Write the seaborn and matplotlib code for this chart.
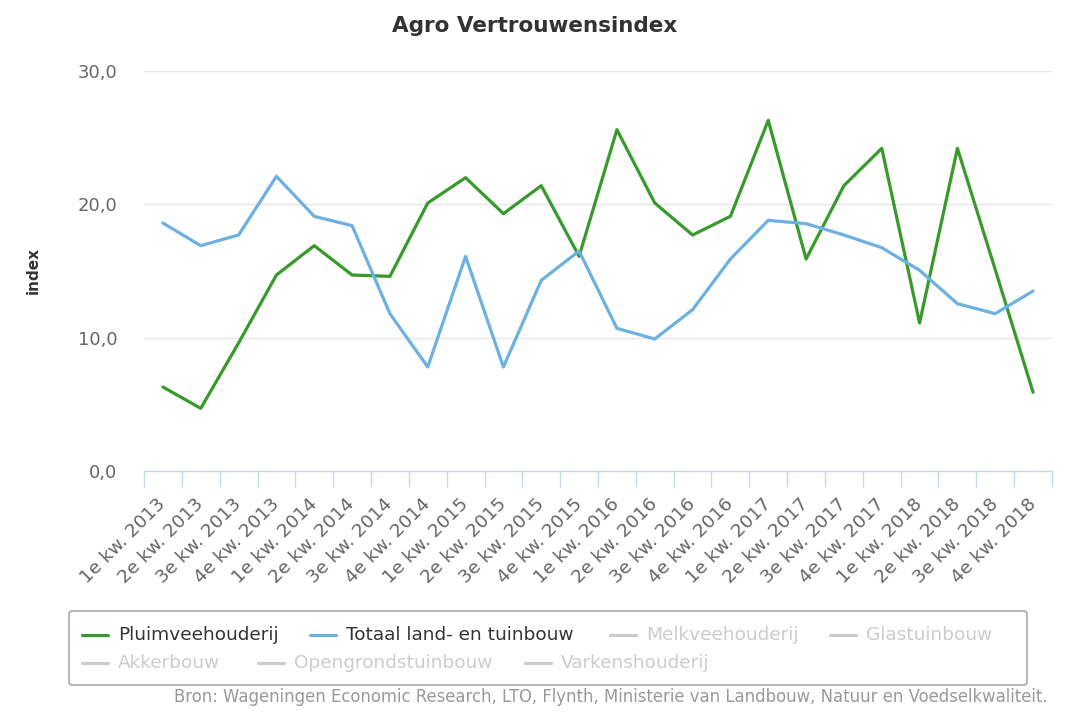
import matplotlib
matplotlib.use("Agg")
import matplotlib.pyplot as plt
import seaborn as sns
import pandas as pd
import numpy as np
from matplotlib.lines import Line2D
from matplotlib.patches import FancyBboxPatch
from matplotlib.ticker import FuncFormatter

# ================================
# DATA
# ================================
QUARTERS = [
    "1e kw. 2013", "2e kw. 2013", "3e kw. 2013", "4e kw. 2013",
    "1e kw. 2014", "2e kw. 2014", "3e kw. 2014", "4e kw. 2014",
    "1e kw. 2015", "2e kw. 2015", "3e kw. 2015", "4e kw. 2015",
    "1e kw. 2016", "2e kw. 2016", "3e kw. 2016", "4e kw. 2016",
    "1e kw. 2017", "2e kw. 2017", "3e kw. 2017", "4e kw. 2017",
    "1e kw. 2018", "2e kw. 2018", "3e kw. 2018", "4e kw. 2018",
]
PLUIMVEE = [6.3, 4.7, 9.6, 14.7, 16.9, 14.7, 14.6, 20.1, 22.0, 19.3, 21.4, 16.1,
            25.6, 20.1, 17.7, 19.1, 26.3, 15.9, 21.4, 24.2, 11.1, 24.2, 15.1, 5.9]
TOTAAL = [18.6, 16.9, 17.7, 22.1, 19.1, 18.4, 11.8, 7.8, 16.1, 7.8, 14.3, 16.5,
          10.7, 9.9, 12.1, 15.9, 18.8, 18.55, 17.7, 16.75, 15.05, 12.55, 11.8, 13.5]
VISIBLE = ["Pluimveehouderij", "Totaal land- en tuinbouw"]
HIDDEN = ["Melkveehouderij", "Glastuinbouw", "Akkerbouw", "Opengrondstuinbouw", "Varkenshouderij"]
Y_TICKS = [0, 10, 20, 30]

GREEN = "#379a2b"
BLUE = "#6cb1e1"
HIDDEN_GREY = "#cccccc"

W, H = 1070, 713

df = pd.DataFrame({
    "kwartaal": QUARTERS * 2,
    "pos": list(range(len(QUARTERS))) * 2,
    "index": PLUIMVEE + TOTAAL,
    "sector": [VISIBLE[0]] * len(QUARTERS) + [VISIBLE[1]] * len(QUARTERS),
})

sns.set_style("white")
plt.rcParams["font.family"] = ["DejaVu Sans"]

fig = plt.figure(figsize=(W / 100, H / 100), dpi=100)
ax = fig.add_axes([144 / W, 1 - 471 / H, (1052 - 144) / W, (471 - 71) / H])

sns.lineplot(data=df, x="pos", y="index", hue="sector",
             palette={VISIBLE[0]: GREEN, VISIBLE[1]: BLUE},
             linewidth=2.3, ax=ax, legend=False, sort=False)

# axes styling
n = len(QUARTERS)
ax.set_xlim(-0.5, n - 0.5)
ax.set_ylim(0, 30)
ax.set_yticks(Y_TICKS)
ax.yaxis.set_major_formatter(FuncFormatter(lambda v, p: f"{v:.1f}".replace(".", ",")))
ax.grid(axis="y", color="#e6e6e6", linewidth=1)
ax.set_axisbelow(True)
for s in ["top", "right", "left"]:
    ax.spines[s].set_visible(False)
ax.spines["bottom"].set_color("#ccd6eb")
ax.spines["bottom"].set_linewidth(1)
ax.tick_params(axis="y", length=0, pad=19, labelsize=13, labelcolor="#666666")

ax.set_xticks(range(n))
ax.set_xticks(np.arange(n + 1) - 0.5, minor=True)
ax.set_xticklabels(QUARTERS, rotation=45, ha="right", va="center",
                   rotation_mode="anchor", fontsize=13.3, color="#666666")
ax.tick_params(axis="x", which="major", bottom=True, length=0, pad=22)
ax.tick_params(axis="x", which="minor", bottom=True, length=11.5, width=1, color="#ccd6eb")

ax.set_xlabel("")
ax.set_ylabel("index", fontsize=11, fontweight="bold", color="#333333", labelpad=27)

fig.text(535 / W, 1 - 26 / H, "Agro Vertrouwensindex", ha="center", va="center",
         fontsize=15.5, fontweight="bold", color="#333333")

# legend box (Highcharts-style flow layout)
box = FancyBboxPatch((69 / W, 1 - 685 / H), (1027 - 69) / W, (685 - 611) / H,
                     boxstyle="round,pad=0,rounding_size=0.004",
                     transform=fig.transFigure, facecolor="white",
                     edgecolor="#999999", linewidth=1)
fig.add_artist(box)

labels = VISIBLE + HIDDEN
colors = [GREEN, BLUE] + [HIDDEN_GREY] * len(HIDDEN)
text_colors = ["#333333", "#333333"] + [HIDDEN_GREY] * len(HIDDEN)
item_x = [82, 310, 610, 830, 82, 258, 525]
item_y = [635, 635, 635, 635, 663, 663, 663]
for lab, c, tc, x0, y0 in zip(labels, colors, text_colors, item_x, item_y):
    yy = 1 - y0 / H
    fig.add_artist(Line2D([x0 / W, (x0 + 26) / W], [yy, yy], color=c,
                          linewidth=2.3, transform=fig.transFigure))
    fig.text((x0 + 36) / W, yy, lab, ha="left", va="center", fontsize=13.3, color=tc)

fig.text(1048 / W, 1 - 697 / H,
         "Bron: Wageningen Economic Research, LTO, Flynth, Ministerie van Landbouw, Natuur en Voedselkwaliteit.",
         ha="right", va="center", fontsize=11.9, color="#999999")

fig.savefig("out.png", dpi=100)
